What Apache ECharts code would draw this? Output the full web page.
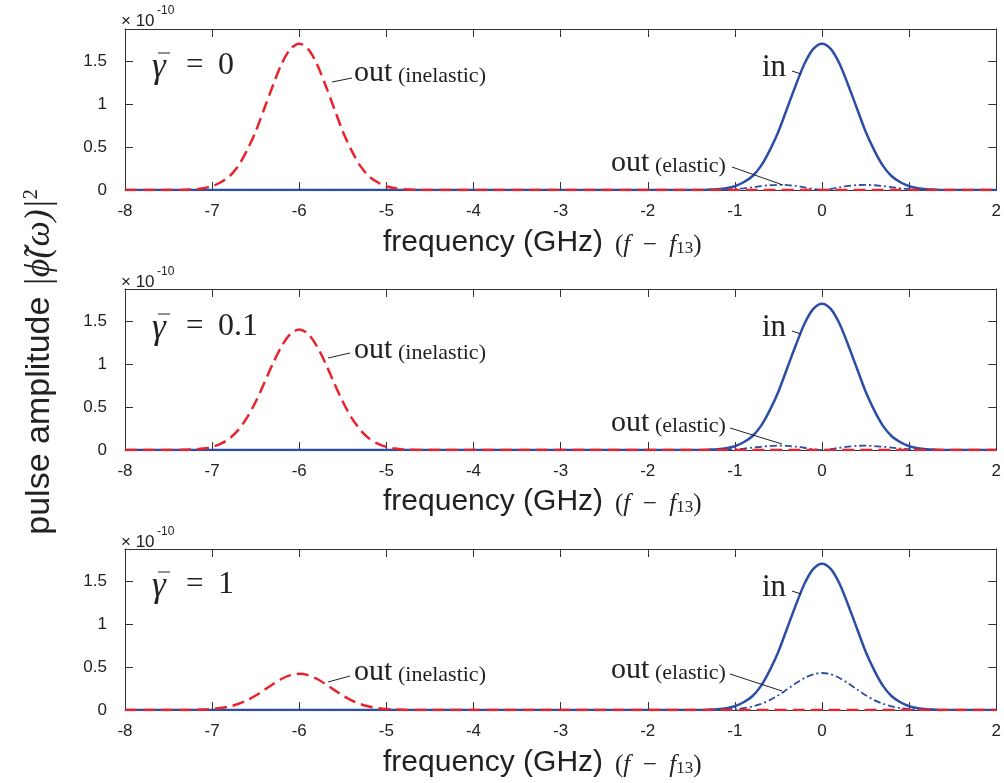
<!DOCTYPE html>
<html><head><meta charset="utf-8">
<script src="https://cdn.jsdelivr.net/npm/echarts@6/dist/echarts.min.js"></script>
<style>html,body{margin:0;background:#fff}#c{width:1004px;height:783px}</style>
</head><body><div id="c"></div>
<script>
// ---- data (amplitudes in units of 1e-10) ----
const xMin = -8, xMax = 2;
const xTickLabels = [-8,-7,-6,-5,-4,-3,-2,-1,0,1,2];
const yTickValues = [0,0.5,1,1.5];
const yMax = 1.87;
const gammaLabels = ['0','0.1','1'];
const inCenter = 0;        // GHz
const inelasticCenter = -6; // GHz
const offsets = [-1.4,-1.3,-1.2,-1.1,-1.0,-0.9,-0.8,-0.7,-0.6,-0.5,-0.4,-0.3,-0.2,-0.1,0,0.1,0.2,0.3,0.4,0.5,0.6,0.7,0.8,0.9,1.0,1.1,1.2,1.3,1.4];
const inPulse = [0.001,0.004,0.009,0.020,0.044,0.090,0.160,0.280,0.460,0.680,0.950,1.220,1.470,1.640,1.700,1.640,1.470,1.220,0.950,0.680,0.460,0.280,0.160,0.090,0.044,0.020,0.009,0.004,0.001];
const inelastic0  = [0.001,0.004,0.009,0.020,0.044,0.090,0.160,0.280,0.460,0.680,0.950,1.220,1.470,1.640,1.700,1.640,1.470,1.220,0.950,0.680,0.460,0.280,0.160,0.090,0.044,0.020,0.009,0.004,0.001];
const inelastic01 = [0.001,0.003,0.007,0.017,0.036,0.073,0.135,0.234,0.375,0.560,0.780,1.010,1.210,1.350,1.400,1.350,1.210,1.010,0.780,0.560,0.375,0.234,0.135,0.073,0.036,0.017,0.007,0.003,0.001];
const inelastic1  = [0.000,0.001,0.002,0.005,0.011,0.022,0.041,0.070,0.113,0.168,0.234,0.302,0.363,0.405,0.420,0.405,0.363,0.302,0.234,0.168,0.113,0.070,0.041,0.022,0.011,0.005,0.002,0.001,0.000];
const elastic0  = [0.000,0.001,0.003,0.006,0.011,0.020,0.032,0.045,0.055,0.060,0.057,0.047,0.031,0.012,0.000,0.012,0.031,0.047,0.057,0.060,0.055,0.045,0.032,0.020,0.011,0.006,0.003,0.001,0.000];
const elastic01 = [0.000,0.001,0.002,0.005,0.009,0.017,0.027,0.037,0.046,0.050,0.048,0.039,0.026,0.010,0.000,0.010,0.026,0.039,0.048,0.050,0.046,0.037,0.027,0.017,0.009,0.005,0.002,0.001,0.000];
const elastic1  = [0.000,0.001,0.002,0.005,0.011,0.022,0.042,0.072,0.115,0.172,0.240,0.310,0.372,0.415,0.430,0.415,0.372,0.310,0.240,0.172,0.115,0.072,0.042,0.022,0.011,0.005,0.002,0.001,0.000];
const inelasticSets = [inelastic0, inelastic01, inelastic1];
const elasticSets = [elastic0, elastic01, elastic1];

// ---- layout ----
const gridTops = [29, 289, 549];
const gridH = 161, gridL = 125, gridW = 874;
const BLUE = '#2c4ea6', RED = '#e8232b', INK = '#222';

function build(center, vals){
  const pts = [[xMin, 0]];
  offsets.forEach((o,i)=>pts.push([+(center+o).toFixed(2), vals[i]]));
  pts.push([xMax, 0]);
  return pts;
}

const grids = gridTops.map(t=>({left:gridL, top:t, width:gridW, height:gridH}));
const xAxes = [], yAxes = [], series = [];
for (let i=0;i<3;i++){
  xAxes.push({gridIndex:i, type:'value', min:xMin, max:xMax, interval:1, position:'bottom',
    axisLine:{show:true, onZero:false, lineStyle:{color:'#333', width:1}},
    axisTick:{show:true, inside:true, length:8, lineStyle:{color:'#333'}},
    axisLabel:{show:true, margin:13, fontSize:17, color:INK, fontFamily:'Liberation Sans'},
    splitLine:{show:false}});
  yAxes.push({gridIndex:i, type:'value', min:0, max:yMax, interval:0.5, position:'left',
    axisLine:{show:true, onZero:false, lineStyle:{color:'#333', width:1}},
    axisTick:{show:true, inside:true, length:8, customValues:yTickValues, lineStyle:{color:'#333'}},
    axisLabel:{show:true, margin:18, fontSize:17, color:INK, fontFamily:'Liberation Sans', customValues:yTickValues},
    splitLine:{show:false}});
}
for (let i=0;i<3;i++){
  xAxes.push({gridIndex:i, type:'value', min:xMin, max:xMax, interval:1, position:'top',
    axisLine:{show:true, onZero:false, lineStyle:{color:'#333', width:1}},
    axisTick:{show:true, inside:true, length:8, lineStyle:{color:'#333'}},
    axisLabel:{show:false}, splitLine:{show:false}});
  yAxes.push({gridIndex:i, type:'value', min:0, max:yMax, interval:0.5, position:'right',
    axisLine:{show:true, onZero:false, lineStyle:{color:'#333', width:1}},
    axisTick:{show:true, inside:true, length:8, customValues:yTickValues, lineStyle:{color:'#333'}},
    axisLabel:{show:false}, splitLine:{show:false}});
}
for (let i=0;i<3;i++){
  series.push({type:'line', xAxisIndex:i, yAxisIndex:i, data:build(inCenter, inPulse), showSymbol:false, smooth:0.3,
    lineStyle:{color:BLUE, width:2.5}, z:3});
  series.push({type:'line', xAxisIndex:i, yAxisIndex:i, data:build(inCenter, elasticSets[i]), showSymbol:false, smooth:0.3,
    lineStyle:{color:BLUE, width:1.8, type:[7,3,2,3]}, z:4});
  series.push({type:'line', xAxisIndex:i, yAxisIndex:i, data:build(inelasticCenter, inelasticSets[i]), showSymbol:false, smooth:0.3,
    lineStyle:{color:RED, width:2.5, type:[12,6]}, z:5});
}

// ---- annotations ----
const serif = 'Liberation Serif';
const g = [];
function txt(x,y,text,size,opts){
  opts = opts||{};
  g.push({type:'text', x:x, y:y, z:100, rotation:opts.rotation||0, style:Object.assign({text:text, fill:INK,
    font:(opts.style||'normal')+' '+size+'px "'+(opts.family||serif)+'"', align:opts.align||'left', verticalAlign:opts.va||'middle'}, opts.extra||{})});
}
function line(x1,y1,x2,y2){
  g.push({type:'line', z:100, shape:{x1,y1,x2,y2}, style:{stroke:INK, lineWidth:1}});
}
const dyPanel = [0, 261, 521];
const inelY = [73, 350, 672];
const inelLead = [[332,82,352,78],[328,358,350,353],[328,682,350,676]];
const elY = [163, 423, 670];
const elLead = [[732,167,783,185],[730,428,782,444],[730,674,782,691]];
const inY = [68, 328, 588];
const gamY = [66, 327, 585];
for (let i=0;i<3;i++){
  const d = dyPanel[i];
  // x 10^-10
  txt(121, 21+d, '\u00d7 10', 17, {family:'Liberation Sans'});
  txt(157, 11+d, '-10', 12, {family:'Liberation Sans'});
  // gamma-bar label
  txt(152, gamY[i]+2, '\u03b3', 35, {style:'italic'});
  line(158, gamY[i]-13, 170, gamY[i]-13);
  txt(186, gamY[i], '=', 31);
  txt(218, gamY[i], gammaLabels[i], 32);
  // inelastic
  txt(354, inelY[i], 'out', 30);
  txt(398, inelY[i]+3, '(inelastic)', 22);
  line(...inelLead[i]);
  // in
  txt(762, inY[i], 'in', 31);
  line(792, inY[i]+3, 801, inY[i]+6);
  // elastic
  txt(611, elY[i], 'out', 30);
  txt(655, elY[i]+3, '(elastic)', 22);
  line(...elLead[i]);
  // x axis title
  const ty = [243, 502, 763][i];
  txt(383, ty, 'frequency (GHz)', 30, {family:'Liberation Sans'});
  g.push({type:'text', x:615, y:ty+2, z:100, style:{
    text:'{p|(}{i|f}{p|  \u2212  }{i|f}{s|13}{p|)}', align:'left', verticalAlign:'middle', fill:INK,
    rich:{p:{fontFamily:serif, fontSize:25, fill:INK}, i:{fontFamily:serif, fontStyle:'italic', fontSize:25, fill:INK},
          s:{fontFamily:serif, fontSize:17, fill:INK, verticalAlign:'bottom', padding:[8,0,0,0]}}}});
}
// y axis title (rotated)
g.push({type:'text', x:40, y:362, rotation:Math.PI/2, z:100, style:{
  text:'{a|pulse amplitude }{b||\u03d5\u0303(\u03c9)|}{c|2}', align:'center', verticalAlign:'middle', fill:INK,
  rich:{a:{fontFamily:'Liberation Sans', fontSize:34, fill:INK},
        b:{fontFamily:serif, fontStyle:'italic', fontSize:36, fill:INK},
        c:{fontFamily:serif, fontSize:20, fill:INK, verticalAlign:'top', padding:[0,0,16,0]}}}});

const chart = echarts.init(document.getElementById('c'), null, {renderer:'canvas'});
chart.setOption({animation:false, backgroundColor:'#fff', grid:grids, xAxis:xAxes, yAxis:yAxes, series:series, graphic:g});
</script></body></html>
